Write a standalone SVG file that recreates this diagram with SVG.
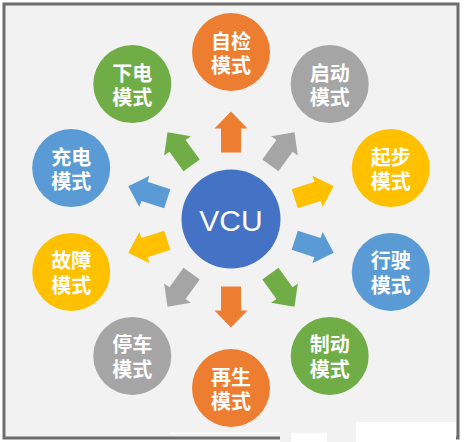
<svg xmlns="http://www.w3.org/2000/svg" width="464" height="442" viewBox="0 0 464 442">
<defs>
<style>
.t{font-family:"Noto Sans CJK SC","Noto Sans CJK JP",sans-serif;font-size:20px;font-weight:bold;fill:#fff;text-anchor:middle;dominant-baseline:central}
.o{fill:#ED7D31}.g{fill:#A5A5A5}.y{fill:#FFC000}.b{fill:#5B9BD5}.n{fill:#70AD47}
</style>
<path id="arw" d="M67,-10 L91,-10 L91,-16.5 L108,0 L91,16.5 L91,10 L67,10 Z"/>
</defs>
<rect x="0" y="0" width="464" height="442" fill="#ffffff"/>
<rect x="4" y="4" width="454" height="434" fill="#f2f2f2" stroke="#6d6d6d" stroke-width="3"/>
<rect x="170" y="432.5" width="110" height="1.5" fill="#ffffff"/>
<rect x="280" y="432" width="176" height="10" fill="#f2f2f2"/>
<rect x="291" y="433" width="36" height="9" fill="#ffffff"/>
<rect x="356" y="422" width="100" height="20" fill="#ffffff"/>
<g id="connectors">
<use href="#arw" class="o" transform="translate(231,219.5) rotate(-90)"/>
<use href="#arw" class="g" transform="translate(231,219.5) rotate(-54)"/>
<use href="#arw" class="y" transform="translate(231,219.5) rotate(-18)"/>
<use href="#arw" class="b" transform="translate(231,219.5) rotate(18)"/>
<use href="#arw" class="n" transform="translate(231,219.5) rotate(54)"/>
<use href="#arw" class="o" transform="translate(231,219.5) rotate(90)"/>
<use href="#arw" class="g" transform="translate(231,219.5) rotate(126)"/>
<use href="#arw" class="y" transform="translate(231,219.5) rotate(162)"/>
<use href="#arw" class="b" transform="translate(231,219.5) rotate(198)"/>
<use href="#arw" class="n" transform="translate(231,219.5) rotate(234)"/>
</g>
<g id="vcu">
<circle cx="231" cy="219" r="49.5" fill="#4472C4"/>
<text x="231" y="220" font-family="Liberation Sans, Arial, sans-serif" font-size="30" fill="#fff" text-anchor="middle" dominant-baseline="central">VCU</text>
</g>
<g id="zijian"><circle cx="231" cy="52" r="39" class="o"/><text class="t" x="231" y="40">自检<tspan x="231" dy="24">模式</tspan></text></g>
<g id="qidong"><circle cx="329.7" cy="84.1" r="39" class="g"/><text class="t" x="329.7" y="72.1">启动<tspan x="329.7" dy="24">模式</tspan></text></g>
<g id="qibu"><circle cx="390.8" cy="168.1" r="39" class="y"/><text class="t" x="390.8" y="156.1">起步<tspan x="390.8" dy="24">模式</tspan></text></g>
<g id="xingshi"><circle cx="390.8" cy="271.9" r="39" class="b"/><text class="t" x="390.8" y="259.9">行驶<tspan x="390.8" dy="24">模式</tspan></text></g>
<g id="zhidong"><circle cx="329.7" cy="355.9" r="39" class="n"/><text class="t" x="329.7" y="343.9">制动<tspan x="329.7" dy="24">模式</tspan></text></g>
<g id="zaisheng"><circle cx="231" cy="388" r="39" class="o"/><text class="t" x="231" y="376">再生<tspan x="231" dy="24">模式</tspan></text></g>
<g id="tingche"><circle cx="132.3" cy="355.9" r="39" class="g"/><text class="t" x="132.3" y="343.9">停车<tspan x="132.3" dy="24">模式</tspan></text></g>
<g id="guzhang"><circle cx="71.2" cy="271.9" r="39" class="y"/><text class="t" x="71.2" y="259.9">故障<tspan x="71.2" dy="24">模式</tspan></text></g>
<g id="chongdian"><circle cx="71.2" cy="168.1" r="39" class="b"/><text class="t" x="71.2" y="156.1">充电<tspan x="71.2" dy="24">模式</tspan></text></g>
<g id="xiadian"><circle cx="132.3" cy="84.1" r="39" class="n"/><text class="t" x="132.3" y="72.1">下电<tspan x="132.3" dy="24">模式</tspan></text></g>
</svg>
